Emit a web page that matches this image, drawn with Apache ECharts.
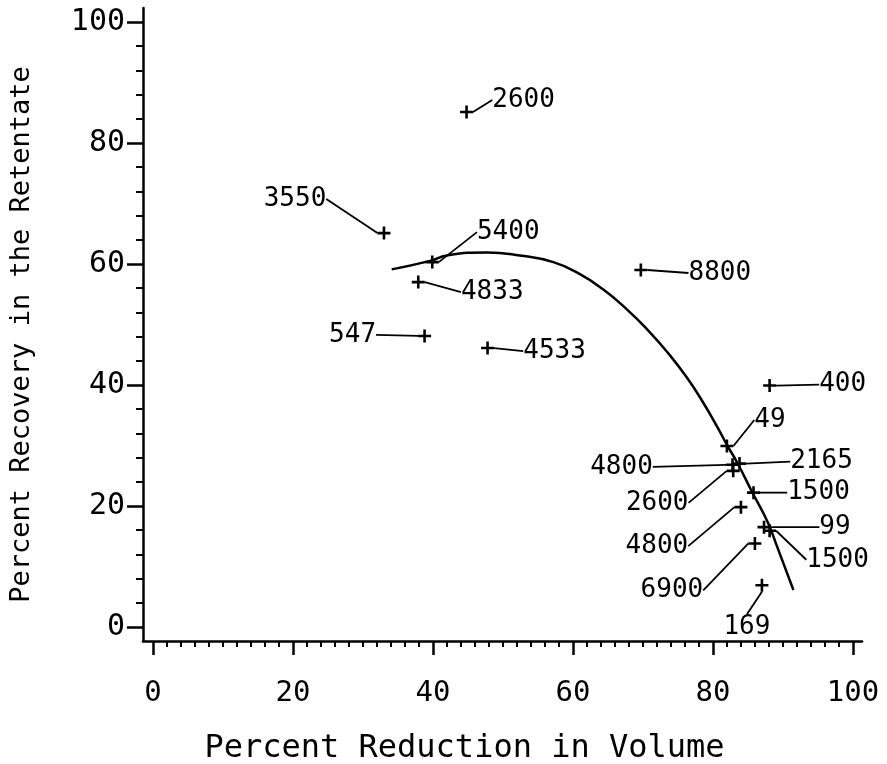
<!DOCTYPE html>
<html>
<head>
<meta charset="utf-8">
<script src="https://cdn.jsdelivr.net/npm/echarts@6/dist/echarts.min.js"></script>
<style>
html,body{margin:0;padding:0;background:#fff;}
#chart{width:887px;height:764px;}
</style>
</head>
<body>
<div id="chart"></div>
<script>
// ---- data ----
const curveX = [34.1, 39.6, 42.0, 47.7, 52.4, 57.2, 61.0, 64.3, 67.7, 70.6, 73.5, 76.3, 78.6, 80.7, 82.0, 83.5, 85.6, 87.8, 89.2, 91.5];
const curveY = [59.1, 60.5, 61.4, 61.9, 61.4, 60.3, 58.3, 55.8, 52.5, 49.2, 45.4, 41.2, 37.1, 32.9, 30.1, 27.1, 22.3, 17.4, 13.2, 6.1];

const pointLabels = ['2600', '3550', '5400', '4833', '547', '4533', '8800', '400', '49', '4800', '2165', '2600', '1500', '4800', '99', '1500', '6900', '169'];
const pointX = [44.8, 33.0, 39.9, 37.9, 38.8, 47.8, 69.7, 88.1, 82.0, 82.8, 83.8, 82.9, 85.8, 84.0, 87.3, 88.1, 86.0, 87.0];
const pointY = [85.1, 65.1, 60.3, 57.0, 48.1, 46.1, 59.0, 39.9, 29.9, 26.8, 27.0, 25.8, 22.2, 19.8, 16.5, 15.9, 13.8, 6.9];

const xMajorTicks = [0, 20, 40, 60, 80, 100];
const xMinorTicks = [2,4,6,8,10,12,14,16,18,22,24,26,28,30,32,34,36,38,42,44,46,48,50,52,54,56,58,62,64,66,68,70,72,74,76,78,82,84,86,88,90,92,94,96,98];
const yMajorTicks = [0, 20, 40, 60, 80, 100];
const yMinorTicks = [4,8,12,16,24,28,32,36,44,48,52,56,64,68,72,76,84,88,92,96];

const xTitle = 'Percent Reduction in Volume';
const yTitle = 'Percent Recovery in the Retentate';

// ---- label offsets (style, in pixels) ----
const labelDx = [57, -89, 76, 74, -72, 67, 79, 73, 43, -111, 82, -76, 65, -84, 71, 68, -83, -15];
const labelDy = [-12, -34, -30, 10, -1, 3, 3, -1, -26, 2, -2, 32, 0, 39, 0, 29, 47, 42];

const FONT = 'DejaVu Sans Mono';
const xMin = -1.43, xMax = 101.3, yMin = -2.32, yMax = 102.3;

const chart = echarts.init(document.getElementById('chart'), null, {renderer: 'canvas'});

const baseX = {
  type: 'value', min: xMin, max: xMax, position: 'bottom', gridIndex: 0,
  splitLine: {show: false}
};
const baseY = {
  type: 'value', min: yMin, max: yMax, position: 'left', gridIndex: 0,
  splitLine: {show: false}
};

const option = {
  backgroundColor: '#fff',
  animation: false,
  grid: {left: 143, right: 25, top: 8, bottom: 123, containLabel: false, outerBoundsMode: 'none'},
  xAxis: [
    Object.assign({}, baseX, {
      axisLine: {show: true, onZero: false, lineStyle: {color: '#000', width: 2.5}},
      axisTick: {show: true, customValues: xMajorTicks, length: 14, lineStyle: {color: '#000', width: 2.5}},
      axisLabel: {show: true, customValues: xMajorTicks, margin: 38, color: '#000', fontFamily: FONT, fontSize: 29},
      name: xTitle, nameLocation: 'middle', nameGap: 92,
      nameTextStyle: {color: '#000', fontFamily: FONT, fontSize: 32, padding: [0, 76, 0, 0]}
    }),
    Object.assign({}, baseX, {
      axisLine: {show: false, onZero: false},
      axisTick: {show: true, customValues: xMinorTicks, length: 6, lineStyle: {color: '#000', width: 2}},
      axisLabel: {show: false}
    })
  ],
  yAxis: [
    Object.assign({}, baseY, {
      axisLine: {show: true, onZero: false, lineStyle: {color: '#000', width: 2.5}},
      axisTick: {show: true, customValues: yMajorTicks, length: 16, lineStyle: {color: '#000', width: 2.5}},
      axisLabel: {show: true, customValues: yMajorTicks, margin: 18, color: '#000', fontFamily: FONT, fontSize: 30},
      name: yTitle, nameLocation: 'middle', nameGap: 108, nameRotate: 90,
      nameTextStyle: {color: '#000', fontFamily: FONT, fontSize: 27, padding: [0, 20, 0, 0]}
    }),
    Object.assign({}, baseY, {
      axisLine: {show: false, onZero: false},
      axisTick: {show: true, customValues: yMinorTicks, length: 7, lineStyle: {color: '#000', width: 2}},
      axisLabel: {show: false}
    })
  ],
  series: [
    {
      type: 'line',
      xAxisIndex: 0, yAxisIndex: 0,
      data: curveX.map((x, i) => [x, curveY[i]]),
      smooth: true,
      showSymbol: false,
      symbol: 'none',
      lineStyle: {color: '#000', width: 2.5},
      silent: true
    },
    {
      type: 'scatter',
      xAxisIndex: 0, yAxisIndex: 0,
      data: pointX.map((x, i) => [x, pointY[i]]),
      symbol: 'path://M0,6 L12,6 M6,0 L6,12',
      symbolSize: 13,
      itemStyle: {color: '#000', borderColor: '#000', borderWidth: 2.6, opacity: 1},
      label: {
        show: true, position: 'inside', color: '#000', textBorderWidth: 0, opacity: 1,
        fontFamily: FONT, fontSize: 26, padding: [2, 5],
        formatter: p => pointLabels[p.dataIndex]
      },
      labelLine: {show: true, lineStyle: {color: '#000', width: 1.8, opacity: 1}},
      labelLayout: p => ({dx: labelDx[p.dataIndex], dy: labelDy[p.dataIndex]}),
      silent: true
    }
  ]
};
chart.setOption(option);
</script>
</body>
</html>
